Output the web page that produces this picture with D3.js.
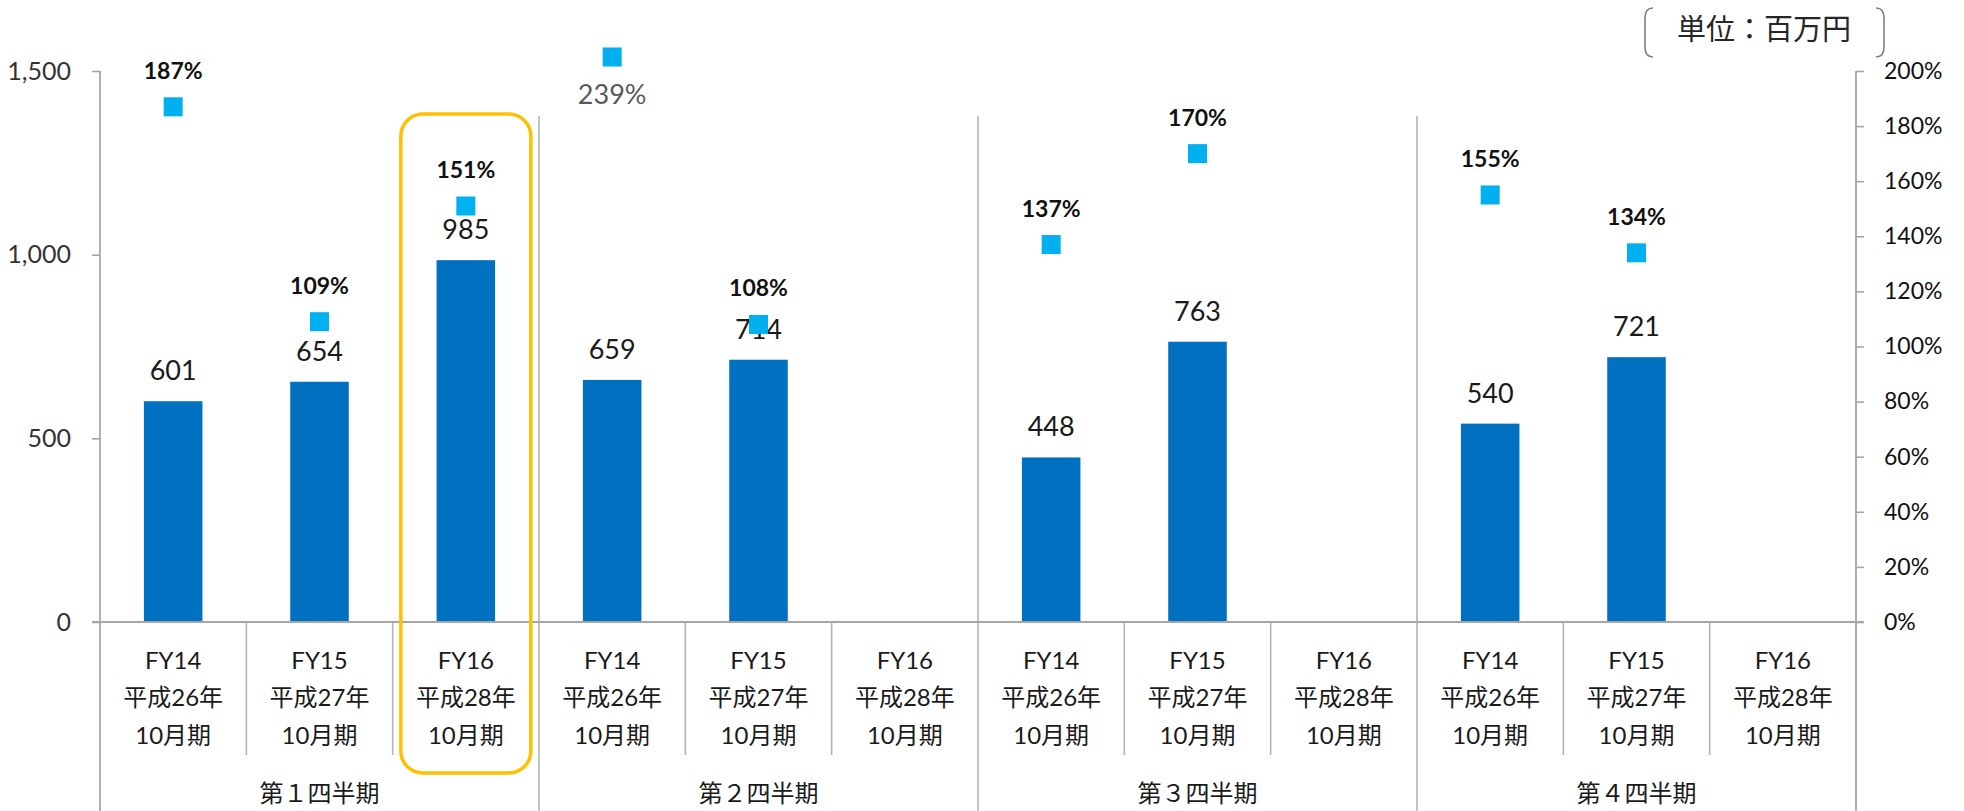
<!DOCTYPE html>
<html>
<head>
<meta charset="utf-8">
<script src="https://cdn.jsdelivr.net/npm/d3@7"></script>
<style>
  body { margin: 0; background: #fff; }
  text { font-family: Lato, "Noto Sans CJK JP", sans-serif; }
</style>
</head>
<body>
<div id="chart"></div>
<script>
// quarters and fiscal years
const quarters = ['第１四半期', '第２四半期', '第３四半期', '第４四半期'];
const years = ['FY14', 'FY15', 'FY16'];
const eraLabels = ['平成26年', '平成27年', '平成28年'];
const periodLabel = '10月期';

// sales (百万円), one row per quarter, FY14..FY16
const sales = [
  [601, 654, 985],
  [659, 714, null],
  [448, 763, null],
  [540, 721, null]
];
// year over year ratio (%)
const ratio = [
  [187, 109, 151],
  [239, 108, null],
  [137, 170, null],
  [155, 134, null]
];

const leftTicks = [0, 500, 1000, 1500];
const rightTicks = [0, 20, 40, 60, 80, 100, 120, 140, 160, 180, 200];
const unitLabel = '単位：百万円';
const highlight = {quarter: 0, year: 2};

const config = {
  width: 1964, height: 811,
  left: 100, right: 1856, top: 71, bottom: 622,
  barColor: '#0070C0', markerColor: '#00B0F0',
  axisColor: '#a6a6a6', boxColor: '#FFC000'
};

// flatten into one row per category
const rows = [];
quarters.forEach((q, qi) => {
  years.forEach((fy, yi) => {
    rows.push({id: qi + '-' + yi, qi, yi, fy, era: eraLabels[yi], sales: sales[qi][yi], ratio: ratio[qi][yi]});
  });
});

const svg = d3.select('#chart').append('svg')
    .attr('width', config.width)
    .attr('height', config.height);

const x = d3.scaleBand()
    .domain(rows.map(d => d.id))
    .range([config.left, config.right])
    .paddingInner(0.6)
    .paddingOuter(0.3);

const yL = d3.scaleLinear().domain([0, 1500]).range([config.bottom, config.top]);
const yR = d3.scaleLinear().domain([0, 200]).range([config.bottom, config.top]);

const step = x.step();
const cx = d => x(d.id) + x.bandwidth() / 2;

// dividers between categories (short) and quarters (long)
const bounds = d3.range(1, rows.length);
svg.append('g').selectAll('line')
    .data(bounds)
  .join('line')
    .attr('x1', k => config.left + k * step)
    .attr('x2', k => config.left + k * step)
    .attr('y1', k => k % 3 === 0 ? 116 : config.bottom)
    .attr('y2', k => k % 3 === 0 ? config.height : 755)
    .attr('stroke', '#b4b4b4')
    .attr('stroke-width', 1.6);

// bars
svg.append('g').selectAll('rect')
    .data(rows.filter(d => d.sales != null))
  .join('rect')
    .attr('x', d => x(d.id))
    .attr('width', x.bandwidth())
    .attr('y', d => yL(d.sales))
    .attr('height', d => yL(0) - yL(d.sales))
    .attr('fill', config.barColor);

// bar value labels
svg.append('g').selectAll('text')
    .data(rows.filter(d => d.sales != null))
  .join('text')
    .attr('x', cx)
    .attr('y', d => yL(d.sales) - 21)
    .attr('text-anchor', 'middle')
    .attr('font-size', 27)
    .attr('fill', '#1a1a1a')
    .text(d => d.sales);

// ratio markers; anything above the axis max sits just over the plot top
const capY = yR.range()[1] - 14;
const my = d => Math.max(yR(d.ratio), capY);
const over = d => yR(d.ratio) < capY;
const pts = rows.filter(d => d.ratio != null);

svg.append('g').selectAll('rect')
    .data(pts)
  .join('rect')
    .attr('x', d => cx(d) - 9.5)
    .attr('y', d => my(d) - 9.5)
    .attr('width', 19)
    .attr('height', 19)
    .attr('fill', config.markerColor);

svg.append('g').selectAll('text')
    .data(pts)
  .join('text')
    .attr('x', cx)
    .attr('y', d => over(d) ? my(d) + 47 : my(d) - 28)
    .attr('text-anchor', 'middle')
    .attr('font-size', d => over(d) ? 27 : 23)
    .attr('font-weight', d => over(d) ? 400 : 700)
    .attr('fill', d => over(d) ? '#595959' : '#111')
    .text(d => d.ratio + '%');

// left axis
const axisL = svg.append('g')
    .attr('transform', `translate(${config.left},0)`)
    .call(d3.axisLeft(yL).tickValues(leftTicks).tickSize(8).tickSizeOuter(0).tickPadding(21).tickFormat(d3.format(',')));

// right axis
const axisR = svg.append('g')
    .attr('transform', `translate(${config.right},0)`)
    .call(d3.axisRight(yR).tickValues(rightTicks).tickSize(8).tickSizeOuter(0).tickPadding(20).tickFormat(d => d + '%'));

[axisL, axisR].forEach(g => {
  g.select('.domain').remove();
  g.selectAll('.tick line').attr('stroke', config.axisColor).attr('stroke-width', 1.6);
});
axisL.selectAll('.tick text').attr('font-size', 25).attr('fill', '#333')
    .style('font-family', 'Lato, sans-serif');
axisR.selectAll('.tick text').attr('font-size', 23).attr('fill', '#111')
    .style('font-family', 'Lato, sans-serif');

// vertical axis lines run down through the label rows
svg.append('g').selectAll('line')
    .data([config.left, config.right])
  .join('line')
    .attr('x1', d => d).attr('x2', d => d)
    .attr('y1', config.top).attr('y2', config.height)
    .attr('stroke', config.axisColor)
    .attr('stroke-width', 1.8);

// baseline
svg.append('line')
    .attr('x1', config.left - 8).attr('x2', config.right + 8)
    .attr('y1', yL(0)).attr('y2', yL(0))
    .attr('stroke', config.axisColor)
    .attr('stroke-width', 2);

// category labels, three lines each
const cat = svg.append('g').selectAll('g')
    .data(rows)
  .join('g')
    .attr('transform', d => `translate(${cx(d)},0)`);

cat.append('text').attr('y', 669).text(d => d.fy);
cat.append('text').attr('y', 706).text(d => d.era);
cat.append('text').attr('y', 744).text(periodLabel);
cat.selectAll('text')
    .attr('text-anchor', 'middle')
    .attr('font-size', 24)
    .attr('fill', '#1a1a1a');

// quarter labels
svg.append('g').selectAll('text')
    .data(quarters)
  .join('text')
    .attr('x', (q, i) => config.left + (i * 3 + 1.5) * step)
    .attr('y', 802)
    .attr('text-anchor', 'middle')
    .attr('font-size', 24)
    .attr('fill', '#1a1a1a')
    .text(q => q);

// highlight box around FY16 Q1
const hi = rows.find(d => d.qi === highlight.quarter && d.yi === highlight.year);
svg.append('rect')
    .attr('x', cx(hi) - 65)
    .attr('y', 114)
    .attr('width', 130)
    .attr('height', 659)
    .attr('rx', 22)
    .attr('fill', 'none')
    .attr('stroke', config.boxColor)
    .attr('stroke-width', 3.5);

// unit note with bracket marks
const unit = svg.append('g');
unit.append('path')
    .attr('d', 'M1653,8 Q1645,8 1645,18 L1645,47 Q1645,57 1653,57 M1876,8 Q1884,8 1884,18 L1884,47 Q1884,57 1876,57')
    .attr('fill', 'none')
    .attr('stroke', '#7f7f7f')
    .attr('stroke-width', 1.6);
unit.append('text')
    .attr('x', 1764)
    .attr('y', 40)
    .attr('text-anchor', 'middle')
    .attr('font-size', 29)
    .attr('fill', '#262626')
    .style('font-family', '"Noto Sans CJK JP", sans-serif')
    .text(unitLabel);
</script>
</body>
</html>
